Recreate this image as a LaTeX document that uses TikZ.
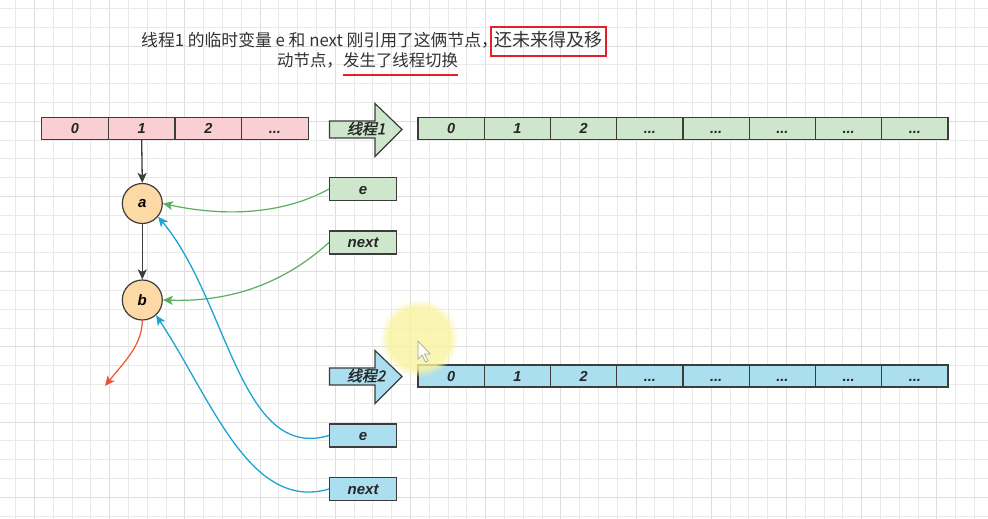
\documentclass[tikz,border=0pt]{standalone}
\usepackage{fontspec}
\setmainfont{Liberation Sans}
\newfontfamily\cjk{Noto Sans CJK SC}
\newfontfamily\cjkbi{Noto Sans CJK SC}[FakeSlant=0.22,FakeBold=1.6]
\usetikzlibrary{arrows.meta,fadings}

\definecolor{gridminor}{HTML}{E9E9E9}
\definecolor{gridmajor}{HTML}{DEDEDE}
\definecolor{edge}{HTML}{3C3C3C}
\definecolor{pinkfill}{HTML}{F9CFD3}
\definecolor{greenfill}{HTML}{CDE6CC}
\definecolor{bluefill}{HTML}{ABDFF0}
\definecolor{nodefill}{HTML}{FDD9A6}
\definecolor{linkgreen}{HTML}{5AAE5F}
\definecolor{linkblue}{HTML}{1DA4D4}
\definecolor{linkred}{HTML}{EE5533}
\definecolor{markred}{HTML}{E0202A}
\definecolor{titlegray}{HTML}{333333}
\definecolor{hilite}{HTML}{FBF3A0}

% cell text for the unnamed slots
\newcommand{\slotdots}{...}

\tikzset{
  cell/.style={draw=edge, line width=1.2pt, minimum height=22pt, inner sep=0pt,
    font=\fontsize{14.5}{14.5}\selectfont\bfseries\itshape, text=black!85,
    text height=10pt, text depth=0pt},
  pinkcell/.style={cell, fill=pinkfill, minimum width=66.65pt},
  greencell/.style={cell, fill=greenfill, minimum width=66.25pt},
  bluecell/.style={cell, fill=bluefill, minimum width=66.25pt},
  varbox/.style={cell, minimum width=67pt, minimum height=23pt,
    font=\fontsize{15}{15}\selectfont\bfseries\itshape},
  listnode/.style={circle, draw=edge, line width=1.2pt, fill=nodefill, minimum size=40pt,
    inner sep=0pt, font=\fontsize{15}{15}\selectfont\bfseries\itshape},
  threadarrow/.style={draw=edge, line width=1.2pt},
  threadlabel/.style={inner sep=0pt, font=\fontsize{15}{15}\cjkbi, text=black!85},
  tip/.style={-{Stealth[length=10pt,width=9pt,inset=2.5pt]}},
  blk/.style={tip, draw=edge, line width=1.3pt},
  grn/.style={tip, draw=linkgreen, line width=1.2pt},
  blu/.style={tip, draw=linkblue, line width=1.3pt},
  redl/.style={tip, draw=linkred, line width=1.2pt},
  title/.style={inner sep=0pt, font=\fontsize{16.8}{16.8}\cjk, text=titlegray,
    text height=13pt, text depth=3.5pt},
  underline/.style={draw=markred, line width=2pt},
}

\begin{document}
\begin{tikzpicture}[x=1pt,y=-1pt]
\useasboundingbox (0,0) rectangle (988,519);
\fill[white] (0,0) rectangle (988,519);

% background grid: minor every 18.8, major every fourth line, snapped to pixel centres
\foreach \k in {-1,...,51} {
  \pgfmathsetmacro{\gx}{round(34+\k*18.8)+0.5}
  \pgfmathtruncatemacro{\m}{mod(\k+40,4)}
  \ifnum\m=0
    \draw[gridmajor, line width=1.6pt] (\gx,0) -- (\gx,519);
  \else
    \draw[gridminor, line width=1.2pt] (\gx,0) -- (\gx,519);
  \fi
}
\foreach \k in {-10,...,17} {
  \pgfmathsetmacro{\gy}{round(196+\k*18.8)+0.5}
  \pgfmathtruncatemacro{\m}{mod(\k+40,4)}
  \ifnum\m=0
    \draw[gridmajor, line width=1.6pt] (0,\gy) -- (988,\gy);
  \else
    \draw[gridminor, line width=1.2pt] (0,\gy) -- (988,\gy);
  \fi
}

% heading
\node[title, anchor=west] (t1a) at (141,41.5) {线程1 的临时变量 e 和 next 刚引用了这俩节点，};
\node[title, anchor=west, draw=markred, line width=1.8pt, inner xsep=3.5pt, inner ysep=6pt,
  font=\fontsize{18}{18}\cjk]
  (t1b) at ([xshift=-8pt]t1a.east) {还未来得及移};
\node[title, anchor=west, font=\fontsize{16.4}{16.4}\cjk] (t2a) at (277,62) {动节点，};
\node[title, anchor=west, font=\fontsize{16.4}{16.4}\cjk] (t2b) at (t2a.east) {发生了线程切换};
\coordinate (ulA) at ([yshift=-5pt]t2b.south west);
\coordinate (ulB) at ([yshift=-5pt]t2b.south east);
\path[underline] (ulA) -- (ulB);

% bucket array (shared table)
\foreach \i/\t in {0/0,1/1,2/2,3/\slotdots} {
  \node[pinkcell] (p\i) at ({41.7+66.65*(\i+0.5)},128.3) {\t};
}

% thread 1 and its new table
\draw[threadarrow, fill=greenfill]
  (329.5,121) -- (375,121) -- (375,103.5) -- (402,129.5) -- (375,156.5) -- (375,138) -- (329.5,138) -- cycle;
\node[threadlabel] (th1) at (366,128.5) {线程1};
\foreach \i/\t in {0/0,1/1,2/2,3/\slotdots,4/\slotdots,5/\slotdots,6/\slotdots,7/\slotdots} {
  \node[greencell] (g\i) at ({418+66.25*(\i+0.5)},128.3) {\t};
}

% thread 2 and its new table
\draw[threadarrow, fill=bluefill]
  (329.5,368) -- (375,368) -- (375,350.5) -- (402,376.5) -- (375,403.5) -- (375,385) -- (329.5,385) -- cycle;
\node[threadlabel] (th2) at (366,375.5) {线程2};
\foreach \i/\t in {0/0,1/1,2/2,3/\slotdots,4/\slotdots,5/\slotdots,6/\slotdots,7/\slotdots} {
  \node[bluecell] (c\i) at ({418+66.25*(\i+0.5)},376) {\t};
}

% list nodes
\node[listnode] (a) at (142.3,203.5) {a};
\node[listnode] (b) at (142.3,300) {b};

% variables of thread 1
\node[varbox, fill=greenfill] (ge) at (363.1,189) {e};
\node[varbox, fill=greenfill] (gn) at (363.1,242.5) {next};

% variables of thread 2
\node[varbox, fill=bluefill] (be) at (363.1,435.5) {e};
\node[varbox, fill=bluefill] (bn) at (363.1,489) {next};

% chain links
\draw[blk] (p1.south) -- (a.north);
\draw[blk] (a.south) -- (b.north);
\coordinate (bnext) at (105,386);
\draw[redl] (b.south) .. controls (142,345) and (125,361) .. (bnext);

% references held by thread 1
\draw[grn] (ge.west) .. controls (280,216) and (220,216) .. (a.east);
\draw[grn] (gn.west) .. controls (280,287) and (225,302) .. (b.east);

% references held by thread 2
\draw[blu] (be.west) .. controls (240,462) and (228,300) .. (a.-40);
\draw[blu] (bn.west) .. controls (250,512) and (212,400) .. (b.-48);

% pointer highlight
\fill[hilite, opacity=0.8, path fading=circle with fuzzy edge 20 percent] (419,338) circle (39);
\draw[gray!70, fill=white, fill opacity=0.85, line width=0.7pt]
  (418,341) -- ++(0,18) -- ++(4,-4) -- ++(3.5,7) -- ++(2.5,-1.2) -- ++(-3.4,-6.8) -- ++(5.6,0) -- cycle;
\end{tikzpicture}
\end{document}
